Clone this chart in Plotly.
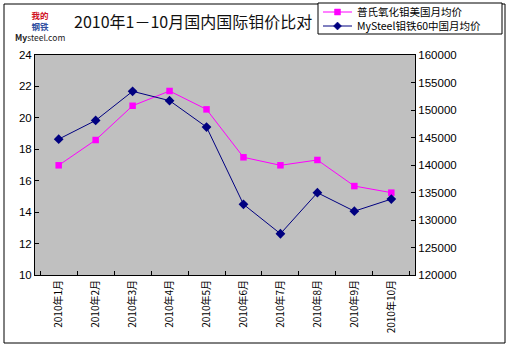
import plotly.graph_objects as go

months = ["2010年1月", "2010年2月", "2010年3月", "2010年4月", "2010年5月",
          "2010年6月", "2010年7月", "2010年8月", "2010年9月", "2010年10月"]
platts_us = [16.98, 18.59, 20.77, 21.71, 20.54, 17.49, 16.98, 17.32, 15.66, 15.24]
mysteel_cn = [144700, 148100, 153400, 151700, 146900, 132850, 127500, 134960, 131600, 133800]

name1 = "普氏氧化钼美国月均价"
name2 = "MySteel钼铁60中国月均价"
title = "2010年1－10月国内国际钼价比对"

W, H = 509, 347
L, R, T, B = 35, 94, 55, 72
PW, PH = W - L - R, H - T - B

def px(x):
    return (x - L) / PW

def py(y):
    return (H - B - y) / PH

fig = go.Figure()
fig.add_trace(go.Scatter(
    x=months, y=platts_us, name=name1, mode="lines+markers",
    line=dict(color="#FF00FF", width=1),
    marker=dict(symbol="square", size=6.5, color="#FF00FF"),
    yaxis="y"))
fig.add_trace(go.Scatter(
    x=months, y=mysteel_cn, name=name2, mode="lines+markers",
    line=dict(color="#000080", width=1),
    marker=dict(symbol="diamond", size=7.5, color="#000080"),
    yaxis="y2"))

tickfont = dict(family="Liberation Sans, Arial", size=11.5, color="black")
fig.update_layout(
    width=W, height=H,
    margin=dict(l=L, r=R, t=T, b=B),
    paper_bgcolor="white", plot_bgcolor="#C0C0C0",
    font=dict(family="Noto Sans CJK SC", color="black"),
    showlegend=False,
    xaxis=dict(
        type="category", showline=True, linecolor="black", linewidth=1, mirror=True,
        ticks="inside", ticklen=4, tickcolor="black", tickson="boundaries",
        tickangle=-90, showgrid=False, zeroline=False,
        tickfont=dict(family="Noto Sans CJK SC", size=10, color="black"),
    ),
    yaxis=dict(
        range=[10, 24], dtick=2, showline=True, linecolor="black", linewidth=1,
        ticks="inside", ticklen=4, tickcolor="black", showgrid=False, zeroline=False,
        tickfont=tickfont,
    ),
    yaxis2=dict(
        range=[120000, 160000], dtick=5000, overlaying="y", side="right",
        tickformat="d",
        showline=True, linecolor="black", linewidth=1,
        ticks="inside", ticklen=4, tickcolor="black", showgrid=False, zeroline=False,
        tickfont=tickfont,
    ),
)

# outer chart border
fig.add_shape(type="rect", xref="paper", yref="paper",
              x0=px(4), x1=px(505), y0=py(343), y1=py(4),
              line=dict(color="black", width=1), layer="below")

# legend box (manual)
fig.add_shape(type="rect", xref="paper", yref="paper",
              x0=px(318), x1=px(502), y0=py(34), y1=py(3),
              line=dict(color="black", width=1), fillcolor="white", layer="above")
legend_items = [
    (name1, "#FF00FF", "square", 12),
    (name2, "#000080", "diamond", 26),
]
for text, color, sym, yy in legend_items:
    fig.add_shape(type="line", xref="paper", yref="paper",
                  x0=px(323), x1=px(352), y0=py(yy), y1=py(yy),
                  line=dict(color=color, width=1), layer="above")
    cx, cy = 337.5, yy
    if sym == "square":
        path = "M {} {} L {} {} L {} {} L {} {} Z".format(
            px(cx - 3), py(cy - 3), px(cx + 3), py(cy - 3),
            px(cx + 3), py(cy + 3), px(cx - 3), py(cy + 3))
    else:
        path = "M {} {} L {} {} L {} {} L {} {} Z".format(
            px(cx), py(cy - 4), px(cx + 4), py(cy),
            px(cx), py(cy + 4), px(cx - 4), py(cy))
    fig.add_shape(type="path", xref="paper", yref="paper", path=path,
                  fillcolor=color, line=dict(color=color, width=0.5), layer="above")
    fig.add_annotation(text=text, xref="paper", yref="paper", x=px(355), y=py(yy),
                       xanchor="left", yanchor="middle", showarrow=False,
                       font=dict(family="Noto Sans CJK SC", size=10.5, color="black"))

fig.add_annotation(text=title, xref="paper", yref="paper", x=px(72), y=py(21),
                   xanchor="left", yanchor="middle", showarrow=False,
                   font=dict(family="Noto Sans CJK SC", size=16, color="#111111"))
# logo
fig.add_annotation(
    text=('<span style="color:#D0101E"><b>我的</b></span><br>'
          '<span style="color:#3050A0"><b>钢铁</b></span><br>'
          '<b>My</b>steel.com'),
    xref="paper", yref="paper", x=px(40), y=py(26),
    xanchor="center", yanchor="middle", showarrow=False, align="center",
    font=dict(family="Noto Sans CJK SC", size=8.5, color="#222222"))

fig.write_html("out.html")
